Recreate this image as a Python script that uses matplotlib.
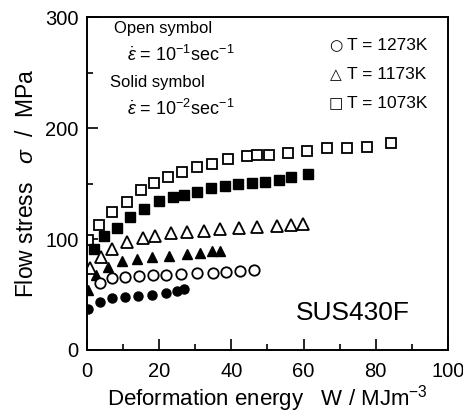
import matplotlib
matplotlib.use("Agg")
import matplotlib.pyplot as plt
from matplotlib.ticker import MultipleLocator

plt.rcParams['font.family'] = ['Liberation Sans', 'DejaVu Sans']
plt.rcParams['mathtext.fontset'] = 'custom'
plt.rcParams['mathtext.rm'] = 'Liberation Sans'
plt.rcParams['mathtext.it'] = 'Liberation Sans:italic'

# 1073 K
w_1073_fast = [0.3, 3.4, 7.0, 11.0, 14.9, 18.6, 22.3, 26.3, 30.5, 34.6, 39.0, 44.4,
               47.1, 50.4, 55.6, 61.0, 66.6, 72.1, 77.7, 84.2]
s_1073_fast = [99, 113, 124.6, 133.6, 144, 150.7, 156, 160.6, 164.5, 167.6, 171.8, 174.8,
               175.4, 175.7, 177.8, 179.3, 181.7, 182.3, 183.2, 186.2]
w_1073_slow = [1.9, 4.8, 8.3, 11.8, 15.8, 20.0, 23.8, 26.9, 30.6, 34.3, 38.1, 41.9,
               45.7, 49.4, 53.1, 56.6, 61.3]
s_1073_slow = [91, 102.5, 110, 120, 126.7, 134, 138, 139.6, 142.6, 145.6, 148, 149.5,
               150.7, 151.6, 153.2, 156, 158.3]

# 1173 K
w_1173_fast = [0.7, 3.8, 7.0, 11.0, 15.4, 18.9, 23.2, 27.7, 32.3, 36.9, 42.0, 47.1,
               52.7, 56.4, 59.9]
s_1173_fast = [74, 84, 91, 97, 100.5, 102.7, 105, 106, 107.5, 108.7, 109.6, 111,
               111.7, 112.6, 113.5]
w_1173_slow = [0.3, 2.6, 5.8, 9.6, 13.8, 18.0, 22.6, 27.7, 31.4, 34.6, 36.9]
s_1173_slow = [54, 67.5, 75, 80, 82, 83.5, 85, 86.5, 87.5, 89, 89.5]

# 1273 K
w_1273_fast = [3.6, 7.0, 10.6, 14.3, 18.2, 22.0, 26.0, 30.4, 34.8, 38.6, 42.4, 46.2]
s_1273_fast = [60, 64.5, 66, 66.5, 67.3, 67.8, 68.4, 69, 69.6, 70.2, 71, 72.3]
w_1273_slow = [0.3, 3.6, 7.0, 10.5, 14.2, 18.0, 22.0, 25.0, 27.0]
s_1273_slow = [37, 43, 46.5, 47.7, 49, 50, 51.3, 53, 55]

temp_labels = ['T = 1273K', 'T = 1173K', 'T = 1073K']
temp_symbols = ['\u25cb', '\u25b3', '\u25a1']

fig = plt.figure(figsize=(4.64, 4.17), dpi=100)
ax = fig.add_axes([0.1875, 0.1607, 0.778, 0.7983])

open_kw = dict(linestyle='none', markerfacecolor='white', markeredgecolor='black',
               markeredgewidth=1.3)
solid_kw = dict(linestyle='none', color='black')

ax.plot(w_1073_fast, s_1073_fast, marker='s', markersize=7, **open_kw)
ax.plot(w_1073_slow, s_1073_slow, marker='s', markersize=6.5, **solid_kw)
ax.plot(w_1173_fast, s_1173_fast, marker='^', markersize=8, **open_kw)
ax.plot(w_1173_slow, s_1173_slow, marker='^', markersize=7.5, **solid_kw)
ax.plot(w_1273_fast, s_1273_fast, marker='o', markersize=7.5, **open_kw)
ax.plot(w_1273_slow, s_1273_slow, marker='o', markersize=6.5, **solid_kw)

ax.set_xlim(0, 100)
ax.set_ylim(0, 300)
ax.xaxis.set_major_locator(MultipleLocator(20))
ax.xaxis.set_minor_locator(MultipleLocator(10))
ax.yaxis.set_major_locator(MultipleLocator(100))
ax.yaxis.set_minor_locator(MultipleLocator(50))
ax.tick_params(which='both', direction='in', labelsize=14.5, width=1.2)
ax.tick_params(which='major', length=8)
ax.tick_params(axis='x', which='major', pad=9)
ax.tick_params(axis='y', which='major', pad=6)
ax.tick_params(which='minor', length=4)
for sp in ax.spines.values():
    sp.set_linewidth(1.4)

ax.set_xlabel('Deformation energy   W / MJm$^{-3}$', fontsize=16, labelpad=1)
ax.set_ylabel('Flow stress   $\\sigma$  /  MPa', fontsize=16.5, labelpad=5)

ax.text(7.5, 290, 'Open symbol', fontsize=12, va='center', ha='left')
ax.text(11, 266, '$\\dot{\\varepsilon}$ = 10$^{-1}$sec$^{-1}$', fontsize=13,
        va='center', ha='left')
ax.text(6.5, 241, 'Solid symbol', fontsize=12, va='center', ha='left')
ax.text(11, 217, '$\\dot{\\varepsilon}$ = 10$^{-2}$sec$^{-1}$', fontsize=13,
        va='center', ha='left')

for i, (sym, lab) in enumerate(zip(temp_symbols, temp_labels)):
    y = 274 - i * 26
    ax.text(69, y, sym, fontsize=11, va='center', ha='center',
            family=['DejaVu Sans'])
    ax.text(72, y, lab, fontsize=12.5, va='center', ha='left')

ax.text(89.5, 33, 'SUS430F', fontsize=19, va='center', ha='right')

fig.savefig('out.png', dpi=100)
